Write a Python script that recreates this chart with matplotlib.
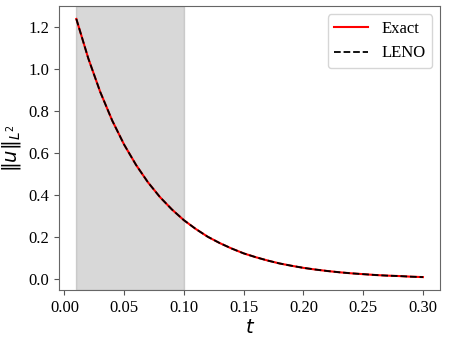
import matplotlib
matplotlib.use('Agg')
import matplotlib.pyplot as plt

# values
t = [0.01, 0.02, 0.03, 0.04, 0.05, 0.06, 0.07, 0.08, 0.09, 0.10,
     0.11, 0.12, 0.13, 0.14, 0.15, 0.16, 0.17, 0.18, 0.19, 0.20,
     0.21, 0.22, 0.23, 0.24, 0.25, 0.26, 0.27, 0.28, 0.29, 0.30]
exact = [1.240, 1.052, 0.892, 0.756, 0.641, 0.544, 0.461, 0.391, 0.332, 0.281,
         0.239, 0.202, 0.172, 0.146, 0.123, 0.105, 0.089, 0.075, 0.064, 0.054,
         0.046, 0.039, 0.033, 0.028, 0.024, 0.020, 0.017, 0.015, 0.012, 0.010]
leno = [1.240, 1.052, 0.892, 0.756, 0.641, 0.544, 0.461, 0.391, 0.332, 0.281,
        0.239, 0.202, 0.172, 0.146, 0.123, 0.105, 0.089, 0.075, 0.064, 0.054,
        0.046, 0.039, 0.033, 0.028, 0.024, 0.020, 0.017, 0.015, 0.012, 0.010]
train_window = (0.01, 0.10)

plt.rcParams['font.family'] = ['Liberation Serif', 'DejaVu Serif']
plt.rcParams['mathtext.fontset'] = 'dejavusans'

fig = plt.figure(figsize=(4.49, 3.43), dpi=100)
ax = fig.add_axes([0.1314, 0.1545, 0.8492, 0.828])

ax.axvspan(train_window[0], train_window[1], color='gray', alpha=0.3)
ax.plot(t, exact, color='red', lw=1.5, label='Exact')
ax.plot(t, leno, color='black', ls='--', lw=1.3, label='LENO')

ax.set_xlabel('$t$', fontsize=14, labelpad=2)
ax.set_ylabel(r'$\|u\|_{L^2}$', fontsize=14, labelpad=4)
ax.set_xticks([0.0, 0.05, 0.10, 0.15, 0.20, 0.25, 0.30])
ax.set_yticks([0.0, 0.2, 0.4, 0.6, 0.8, 1.0, 1.2])
ax.tick_params(labelsize=12, color='#555555')
for s in ax.spines.values():
    s.set_color('#666666')
ax.legend(fontsize=12, loc='upper right')

fig.savefig('out.png', dpi=100)
